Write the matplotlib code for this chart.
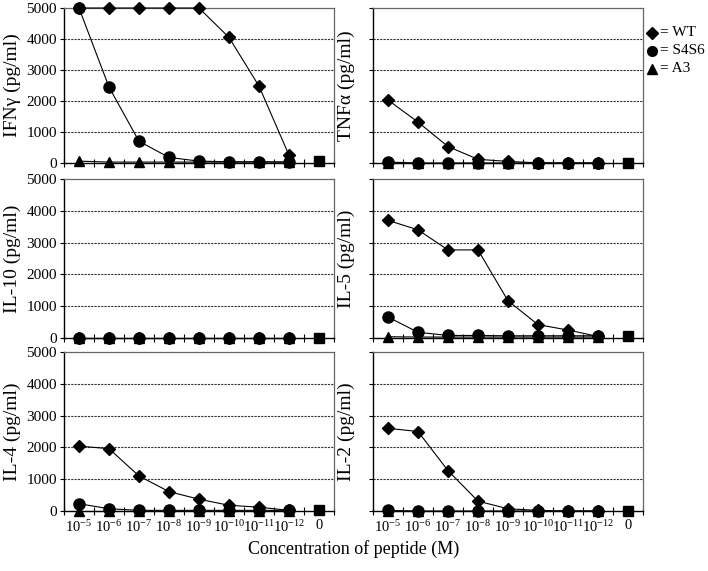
import matplotlib
matplotlib.use("Agg")
import matplotlib.pyplot as plt
from matplotlib.lines import Line2D

plt.rcParams['font.family'] = ['Liberation Serif', 'DejaVu Serif']
plt.rcParams['mathtext.fontset'] = 'custom'
plt.rcParams['mathtext.rm'] = 'Liberation Serif'
plt.rcParams['mathtext.it'] = 'Liberation Serif:italic'

categories = ['$\\mathregular{10^{-5}}$', '$\\mathregular{10^{-6}}$', '$\\mathregular{10^{-7}}$',
              '$\\mathregular{10^{-8}}$', '$\\mathregular{10^{-9}}$', '$\\mathregular{10^{-10}}$',
              '$\\mathregular{10^{-11}}$', '$\\mathregular{10^{-12}}$', '0']

panels = ['IFNγ (pg/ml)', 'TNFα (pg/ml)', 'IL-10 (pg/ml)', 'IL-5 (pg/ml)', 'IL-4 (pg/ml)', 'IL-2 (pg/ml)']

wt = [
    [5000, 5000, 5000, 5000, 5000, 4050, 2480, 250],
    [2030, 1320, 530, 120, 50, 5, 0, 0],
    [0, 0, 0, 0, 0, 0, 0, 0],
    [3700, 3400, 2770, 2770, 1170, 420, 250, 50],
    [2040, 1960, 1100, 610, 370, 180, 120, 20],
    [2600, 2500, 1270, 310, 70, 20, 0, 0],
]
s4s6 = [
    [5000, 2450, 700, 180, 60, 40, 40, 30],
    [30, 0, 0, 0, 0, 0, 0, 0],
    [0, 0, 0, 0, 0, 0, 0, 0],
    [660, 180, 80, 80, 70, 70, 70, 70],
    [230, 70, 20, 20, 20, 20, 20, 20],
    [20, 0, 0, 0, 0, 0, 0, 0],
]
a3 = [
    [60, 30, 30, 30, 30, 30, 30, 30],
    [0, 0, 0, 0, 0, 0, 0, 0],
    [0, 0, 0, 0, 0, 0, 0, 0],
    [40, 30, 30, 30, 30, 30, 30, 30],
    [0, 0, 0, 0, 0, 0, 0, 0],
    [0, 0, 0, 0, 0, 0, 0, 0],
]
control = [60, 0, 0, 60, 20, 0]

fig = plt.figure(figsize=(7.08, 5.71), dpi=100)
W, H = 708, 571
lefts = [64, 373]
width = 270
rows = [(8, 163), (179, 338), (352, 511)]

xs = list(range(8))
for i, name in enumerate(panels):
    r, c = divmod(i, 2)
    top, bot = rows[r]
    ax = fig.add_axes([lefts[c] / W, 1 - bot / H, width / W, (bot - top) / H])
    ax.set_xlim(-0.5, 8.5)
    ax.set_ylim(0, 5000)
    for y in [1000, 2000, 3000, 4000]:
        ax.axhline(y, color='#333333', lw=0.8, ls=(0, (2, 1)), zorder=1)
    ax.plot(xs, a3[i], color='black', lw=0.8, marker='^', ms=7, zorder=3, clip_on=False)
    ax.plot(xs, s4s6[i], color='black', lw=0.8, marker='o', ms=8, zorder=4, clip_on=False)
    ax.plot(xs, wt[i], color='black', lw=0.8, marker='D', ms=6, zorder=5, clip_on=False)
    ax.plot([8], [control[i]], color='black', marker='s', ms=7, ls='none', zorder=5, clip_on=False)
    ax.set_yticks([0, 1000, 2000, 3000, 4000, 5000])
    ax.set_xticks([k + 0.5 for k in range(-1, 9)], minor=False)
    ax.set_xticks(range(9), minor=True)
    ax.tick_params(axis='x', which='major', direction='inout', length=6, width=0.8, labelbottom=False)
    ax.tick_params(axis='x', which='minor', length=0)
    if r == 2:
        ax.set_xticklabels(categories, minor=True, fontsize=10.5)
        ax.tick_params(axis='x', which='minor', labelbottom=True, pad=6)
    ax.tick_params(axis='y', direction='out', length=3, width=0.8, labelsize=11, pad=2)
    if c == 1:
        ax.set_yticklabels([])
        ax.tick_params(axis='y', length=3)
    for s in ['left', 'bottom']:
        ax.spines[s].set_color('black')
        ax.spines[s].set_linewidth(1.0)
    for s in ['top', 'right']:
        ax.spines[s].set_color('#666666')
        ax.spines[s].set_linewidth(0.9)
    ax.set_ylabel(name, fontsize=14, labelpad=4 if c == 0 else 8)
    if c == 1:
        ax.yaxis.set_label_coords(-0.065, 0.5)

fig.text(354 / W, 1 - 549 / H, 'Concentration of peptide (M)', ha='center', va='center', fontsize=13)

leg_items = [('D', '= WT', 33), ('o', '= S4S6', 51), ('^', '= A3', 69)]
for m, lab, yp in leg_items:
    fig.lines.append(Line2D([652 / W], [1 - yp / H], marker=m, color='black', ms=7 if m != 'D' else 6,
                            transform=fig.transFigure))
    fig.text(660 / W, 1 - yp / H, lab, ha='left', va='center', fontsize=11)

fig.savefig('out.png', dpi=100)
